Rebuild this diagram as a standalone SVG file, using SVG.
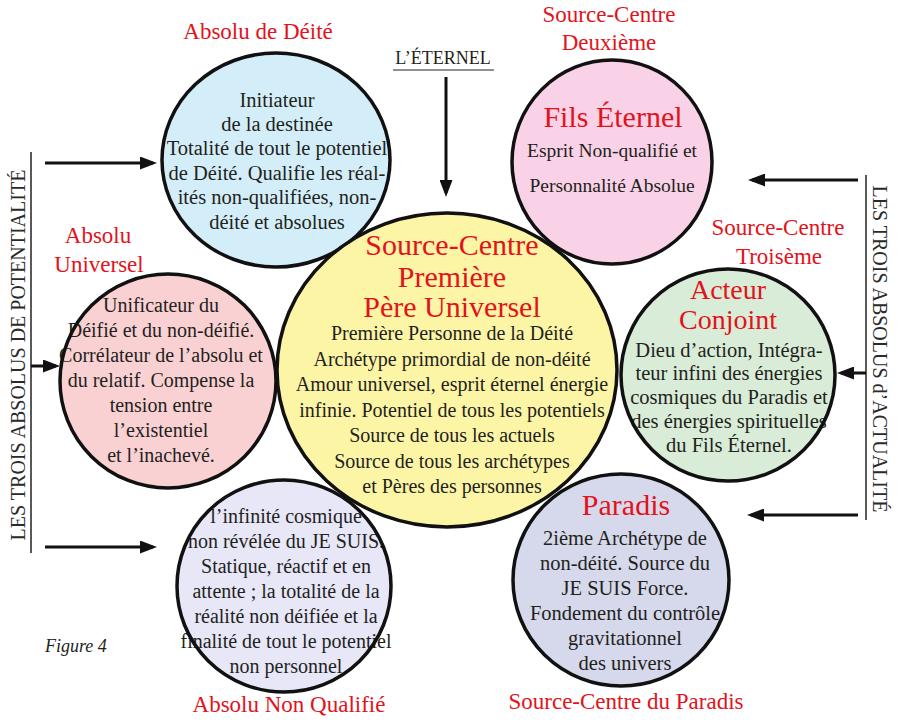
<svg xmlns="http://www.w3.org/2000/svg" width="899" height="726" viewBox="0 0 899 726" font-family="'Liberation Serif', 'DejaVu Serif', serif">
<style>
text{font-family:'Liberation Serif','DejaVu Serif',serif;text-anchor:middle}
.b{fill:#231f20;font-size:20px}
.r{fill:#e3121b}
.lab{font-size:23px}
.ttl{font-size:30px}
.ring{fill:none;stroke:#111;stroke-width:3.5}
.ln{stroke:#111;stroke-width:3;fill:none}
.thin{stroke:#222;stroke-width:1.5;fill:none}
.side{fill:#2a2a2a;font-size:20px}
</style>
<defs>
<marker id="ah" viewBox="0 0 17 13" markerWidth="17" markerHeight="13" refX="13" refY="6.5" orient="auto" markerUnits="userSpaceOnUse">
<path d="M0,0 L17,6.5 L0,13 z" fill="#111"/>
</marker>
</defs>
<rect width="899" height="726" fill="#fff"/>

<g id="absolu-deite">
<text class="r lab" x="258" y="39">Absolu de Déité</text>
<ellipse cx="276" cy="160" rx="114" ry="107" fill="#d3eef9"/>
<g class="b" style="font-size:20.5px">
<text x="277" y="107">Initiateur</text>
<text x="277" y="131">de la destinée</text>
<text x="277" y="155">Totalité de tout le potentiel</text>
<text x="277" y="180">de Déité. Qualifie les réal-</text>
<text x="277" y="204">ités non-qualifiées, non-</text>
<text x="277" y="229">déité et absolues</text>
</g>
<ellipse class="ring" cx="276" cy="160" rx="114" ry="107"/>
</g>

<g id="fils-eternel">
<text class="r lab" x="609" y="22">Source-Centre</text>
<text class="r lab" x="609" y="50">Deuxième</text>
<ellipse cx="612" cy="162" rx="100" ry="102" fill="#f9d2e7"/>
<text class="r ttl" x="613" y="127">Fils Éternel</text>
<text class="b" style="font-size:19.5px" x="612" y="157">Esprit Non-qualifié et</text>
<text class="b" style="font-size:19.5px" x="612" y="192">Personnalité Absolue</text>
<ellipse class="ring" cx="612" cy="162" rx="100" ry="102"/>
</g>

<g id="absolu-universel">
<text class="r lab" x="98" y="243">Absolu</text>
<text class="r lab" x="99" y="272">Universel</text>
<ellipse cx="168" cy="381" rx="108" ry="107" fill="#f9d1d3"/>
<g class="b">
<text x="161" y="312">Unificateur du</text>
<text x="161" y="337">Déifié et du non-déifié.</text>
<text x="161" y="362">Corrélateur de l’absolu et</text>
<text x="161" y="387">du relatif. Compense la</text>
<text x="161" y="412">tension entre</text>
<text x="161" y="437">l’existentiel</text>
<text x="161" y="462">et l’inachevé.</text>
</g>
<ellipse class="ring" cx="168" cy="381" rx="108" ry="107"/>
</g>

<g id="acteur-conjoint">
<text class="r lab" x="778" y="235">Source-Centre</text>
<text class="r lab" x="779" y="264">Troisème</text>
<ellipse cx="728" cy="375" rx="107" ry="106" fill="#d8ecd7"/>
<text class="r" style="font-size:28px" x="728" y="299">Acteur</text>
<text class="r" style="font-size:28px" x="728" y="329">Conjoint</text>
<g class="b" style="font-size:20.5px">
<text x="729" y="357">Dieu d’action, Intégra-</text>
<text x="729" y="380">teur infini des énergies</text>
<text x="729" y="404">cosmiques du Paradis et</text>
<text x="729" y="428">des énergies spirituelles</text>
<text x="729" y="452">du Fils Éternel.</text>
</g>
<ellipse class="ring" cx="728" cy="375" rx="107" ry="106"/>
</g>

<g id="absolu-non-qualifie">
<ellipse cx="284" cy="586" rx="107" ry="106" fill="#e7e7f8"/>
<g class="b">
<text x="286" y="523">l’infinité cosmique</text>
<text x="286" y="548">non révélée du JE SUIS.</text>
<text x="286" y="573">Statique, réactif et en</text>
<text x="286" y="598">attente ; la totalité de la</text>
<text x="286" y="623">réalité non déifiée et la</text>
<text x="286" y="648">finalité de tout le potentiel</text>
<text x="286" y="673">non personnel</text>
</g>
<ellipse class="ring" cx="284" cy="586" rx="107" ry="106"/>
<text class="r lab" x="289" y="712">Absolu Non Qualifié</text>
</g>

<g id="source-centre-premiere">
<ellipse cx="447" cy="370" rx="170" ry="157" fill="#fdf5a6"/>
<text class="r ttl" x="452" y="255">Source-Centre</text>
<text class="r ttl" x="452" y="287">Première</text>
<text class="r ttl" x="452" y="317">Père Universel</text>
<g class="b">
<text x="452" y="340">Première Personne de la Déité</text>
<text x="452" y="365.5">Archétype primordial de non-déité</text>
<text x="452" y="391">Amour universel, esprit éternel énergie</text>
<text x="452" y="416.5">infinie. Potentiel de tous les potentiels</text>
<text x="452" y="442">Source de tous les actuels</text>
<text x="452" y="467.5">Source de tous les archétypes</text>
<text x="452" y="493">et Pères des personnes</text>
</g>
<ellipse class="ring" cx="447" cy="370" rx="170" ry="157"/>
</g>

<g id="paradis">
<ellipse cx="621" cy="580" rx="108" ry="106" fill="#d6d9eb"/>
<text class="r ttl" x="626" y="515">Paradis</text>
<g class="b" style="font-size:20.5px">
<text x="625" y="545">2ième Archétype de</text>
<text x="625" y="570">non-déité. Source du</text>
<text x="625" y="595">JE SUIS Force.</text>
<text x="625" y="620">Fondement du contrôle</text>
<text x="625" y="645">gravitationnel</text>
<text x="625" y="670">des univers</text>
</g>
<ellipse class="ring" cx="621" cy="580" rx="108" ry="106"/>
<text class="r lab" x="626" y="709">Source-Centre du Paradis</text>
</g>

<g id="eternel">
<text x="443" y="64" style="font-size:18px;fill:#231f20">L’ÉTERNEL</text>
<line class="thin" x1="393" y1="70" x2="494" y2="70" style="stroke-width:1.2"/>
</g>

<g id="potentialite">
<text class="side" transform="translate(25,355) rotate(-90)">LES TROIS ABSOLUS DE POTENTIALITÉ</text>
</g>
<g id="actualite">
<text class="side" transform="translate(873,349) rotate(90)">LES TROIS ABSOLUS d’ACTUALITÉ</text>
</g>

<text x="45" y="652" style="font-size:18px;font-style:italic;fill:#231f20;text-anchor:start">Figure 4</text>

<g id="connectors">
<line class="thin" x1="31" y1="152" x2="31" y2="553"/>
<line class="thin" x1="866" y1="175" x2="866" y2="520"/>
<line class="ln" x1="446" y1="77" x2="446" y2="193" marker-end="url(#ah)"/>
<line class="ln" x1="45" y1="163" x2="153" y2="163" marker-end="url(#ah)"/>
<line class="ln" x1="31" y1="366" x2="56" y2="366" marker-end="url(#ah)"/>
<line class="ln" x1="45" y1="547" x2="153" y2="547" marker-end="url(#ah)"/>
<line class="ln" x1="858" y1="180" x2="752" y2="180" marker-end="url(#ah)"/>
<line class="ln" x1="866" y1="373" x2="841" y2="373" marker-end="url(#ah)"/>
<line class="ln" x1="858" y1="515" x2="751" y2="515" marker-end="url(#ah)"/>
</g>
</svg>
